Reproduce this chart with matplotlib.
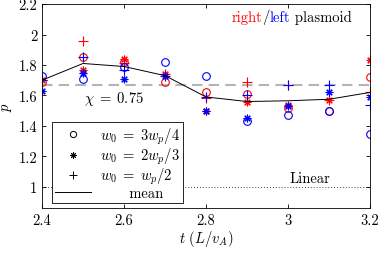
import numpy as np
import matplotlib
matplotlib.use("Agg")
import matplotlib.pyplot as plt
from matplotlib.lines import Line2D

plt.rcParams['font.family'] = ['cmr10', 'DejaVu Serif']
plt.rcParams['mathtext.fontset'] = 'cm'
plt.rcParams['axes.formatter.use_mathtext'] = True
plt.rcParams['font.size'] = 10.5

# times and p values
t = [2.4, 2.5, 2.6, 2.7, 2.8, 2.9, 3.0, 3.1, 3.2]
red_circ = [1.69, 1.85, 1.82, 1.69, 1.62, 1.61, 1.52, 1.50, 1.72]
blue_circ = [1.73, 1.71, 1.79, 1.82, 1.73, 1.43, 1.47, 1.50, 1.35]
red_star = [1.70, 1.77, 1.84, 1.74, 1.50, 1.56, 1.54, 1.57, 1.83]
blue_star = [1.63, 1.75, 1.71, 1.73, 1.50, 1.45, 1.53, 1.62, 1.59]
red_plus = [1.70, 1.96, 1.81, 1.74, 1.58, 1.69, 1.67, 1.57, 1.62]
blue_plus = [1.70, 1.85, 1.77, 1.73, 1.59, 1.60, 1.67, 1.67, 1.54]
mean_p = [1.70, 1.81, 1.79, 1.73, 1.59, 1.56, 1.565, 1.575, 1.62]

chi_p = 5 / 3
linear_p = 1.0
xticks = [2.4, 2.6, 2.8, 3.0, 3.2]
xticklabels = ['2.4', '2.6', '2.8', '3', '3.2']
yticks = [1.0, 1.2, 1.4, 1.6, 1.8, 2.0, 2.2]
yticklabels = ['1', '1.2', '1.4', '1.6', '1.8', '2', '2.2']

fig = plt.figure(figsize=(3.82, 2.55), dpi=100)
ax = fig.add_axes([0.110, 0.180, 0.859, 0.800])

ax.axhline(chi_p, color='#b4b4b4', lw=1.5, ls=(0, (5, 3)), zorder=1)
ax.axhline(linear_p, color='k', lw=0.6, ls=(0, (1, 2.5)), zorder=1)

star = (8, 2, 0)
ms = 5.5
for col, yc, ys, yp in [('r', red_circ, red_star, red_plus),
                        ('b', blue_circ, blue_star, blue_plus)]:
    ax.plot(t, yc, ls='none', marker='o', mfc='none', mec=col, ms=ms, mew=0.8)
    ax.plot(t, ys, ls='none', marker=star, color=col, ms=ms, mew=0.8)
    ax.plot(t, yp, ls='none', marker='+', color=col, ms=ms + 1, mew=0.8)

ax.plot(t, mean_p, color='k', lw=0.7)

ax.set_xlim(2.4, 3.2)
ax.set_ylim(0.86, 2.2)
ax.set_xticks(xticks)
ax.set_xticklabels(xticklabels)
ax.set_yticks(yticks)
ax.set_yticklabels(yticklabels)
ax.tick_params(direction='in', top=True, right=True, length=3, width=0.6)
for s in ax.spines.values():
    s.set_linewidth(0.6)

ax.set_xlabel(r'$t\ (L/v_A)$', labelpad=1)
ax.set_ylabel(r'$p$', labelpad=3)

ax.text(2.502, 1.585, r'$\chi\;=\;0.75$', va='center', ha='left')
ax.text(3.003, 1.015, 'Linear', va='bottom', ha='left')

t1 = ax.text(2.862, 2.09, 'right', color='r', va='baseline', ha='left')
t2 = ax.annotate('/', xy=(1, 0), xycoords=t1, va='bottom', ha='left')
t3 = ax.annotate('left', xy=(1, 0), xycoords=t2, color='b', va='bottom', ha='left')
ax.annotate(' plasmoid', xy=(1, 0), xycoords=t3, va='bottom', ha='left')

handles = [
    Line2D([], [], ls='none', marker='o', mfc='none', mec='k', ms=ms - 1, mew=0.7),
    Line2D([], [], ls='none', marker=star, color='k', ms=ms - 1, mew=0.7),
    Line2D([], [], ls='none', marker='+', color='k', ms=ms, mew=0.7),
    Line2D([], [], color='k', lw=0.7),
]
labels = [r'$w_0\;=\;3w_p/4$', r'$w_0\;=\;2w_p/3$', r'$w_0\;=\;w_p/2$', '      mean']
leg = ax.legend(handles, labels, loc='upper left', bbox_to_anchor=(0.03, 0.42),
                borderaxespad=0, fancybox=False, framealpha=1, edgecolor='k',
                handlelength=2.5, handletextpad=0.6, labelspacing=0.0,
                borderpad=0.2, numpoints=1)
leg.get_frame().set_linewidth(0.6)

fig.savefig('out.png', dpi=100)
